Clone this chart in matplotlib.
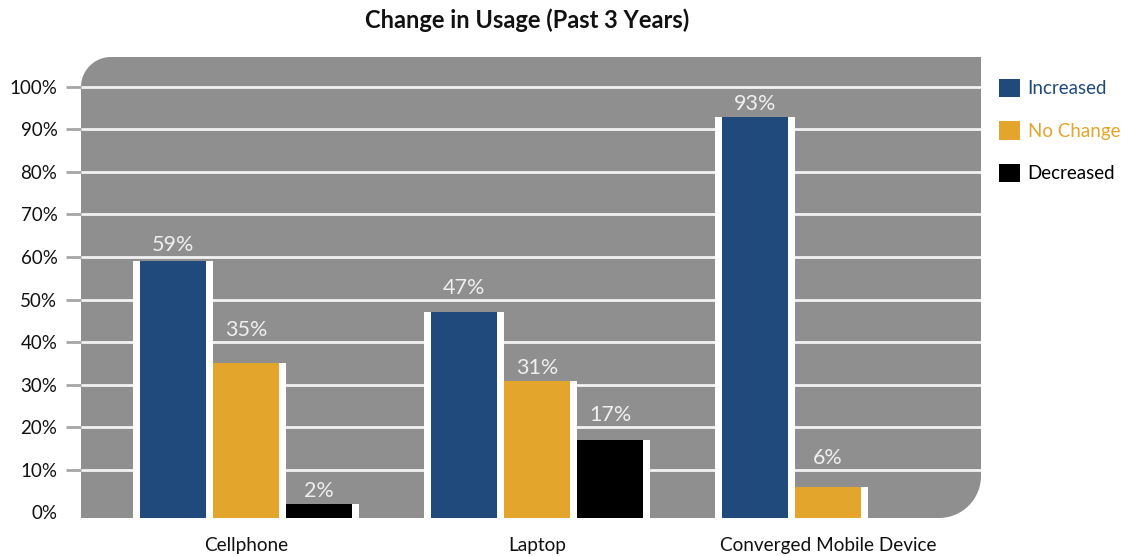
import numpy as np
import matplotlib
matplotlib.use('Agg')
import matplotlib.pyplot as plt
from matplotlib.path import Path
from matplotlib.patches import PathPatch

plt.rcParams['font.family'] = ['Lato', 'DejaVu Sans']

# Survey results, percent of respondents
categories = ['Cellphone', 'Laptop', 'Converged Mobile Device']
series_names = ['Increased', 'No Change', 'Decreased']
increased = [59, 47, 93]
no_change = [35, 31, 6]
decreased = [2, 17, 0]
y_ticks = [0, 10, 20, 30, 40, 50, 60, 70, 80, 90, 100]

colors = ['#214a7c', '#e3a52c', '#000000']
plot_gray = '#8f8f8f'
series = [increased, no_change, decreased]

W, H = 1121, 556
fig = plt.figure(figsize=(W / 100, H / 100), dpi=100)
ax_l, ax_r, ax_t, ax_b = 81, 981, 57, 518
ax = fig.add_axes([ax_l / W, 1 - ax_b / H, (ax_r - ax_l) / W, (ax_b - ax_t) / H])
ax.patch.set_visible(False)

y_min, y_max = -1.3, 107
px_per_unit = (ax_b - ax_t) / (y_max - y_min)


def rounded_panel(r_tl, r_br, w_px, h_px):
    """Panel in axes coords with rounded top-left and bottom-right corners."""
    rx1, ry1 = r_tl / w_px, r_tl / h_px
    rx2, ry2 = r_br / w_px, r_br / h_px
    t = np.linspace(0, np.pi / 2, 20)
    pts = [(0, 0)]
    # top-left arc
    pts += list(zip(rx1 - rx1 * np.cos(t), 1 - ry1 + ry1 * np.sin(t)))
    pts += [(1, 1)]
    # bottom-right arc
    pts += list(zip(1 - rx2 + rx2 * np.cos(t), ry2 - ry2 * np.sin(t)))
    pts += [(0, 0)]
    codes = [Path.MOVETO] + [Path.LINETO] * (len(pts) - 2) + [Path.CLOSEPOLY]
    return Path(pts, codes)


def bar_heights(vals):
    # bars start at the bottom edge of the panel; zero values get no bar
    v = np.array(vals, dtype=float)
    return np.where(v > 0, v - y_min, 0.0)


panel = PathPatch(rounded_panel(30, 42, ax_r - ax_l, ax_b - ax_t),
                  transform=ax.transAxes, facecolor=plot_gray,
                  edgecolor='none', zorder=0)
ax.add_patch(panel)

x = np.arange(len(categories))
group_px = 291.0
pitch = 73 / group_px
bar_w = 66 / group_px
ext = 7 / group_px

# white backing strips first, then the coloured bars on top
for i, vals in enumerate(series):
    off = (i - 1) * pitch
    ax.bar(x + off, bar_heights(vals), bottom=y_min, width=bar_w + 2 * ext,
           color='white', linewidth=0, zorder=2)

handles = []
for i, (vals, c, name) in enumerate(zip(series, colors, series_names)):
    off = (i - 1) * pitch
    b = ax.bar(x + off, bar_heights(vals), bottom=y_min, width=bar_w, color=c,
               linewidth=0, zorder=3, label=name)
    handles.append(b)
    for xi, v in zip(x + off, vals):
        if v == 0:
            continue
        # keep the label clear of the gridline just above the bar
        grid_above = np.ceil((v + 0.01) / 10) * 10
        if (grid_above - v) * px_per_unit >= 25:
            base, gap_px = v, 7
        else:
            base, gap_px = grid_above, 6
        ax.annotate(f'{v}%', (xi, base), xytext=(0, gap_px * 0.72),
                    textcoords='offset points', ha='center', va='baseline',
                    color='#efefef', fontsize=15.5, zorder=4)

ax.set_xlim(-165.5 / group_px, 2 + 153 / group_px)
ax.set_ylim(y_min, y_max)

ax.set_yticks(y_ticks)
ax.set_yticklabels([f'{t}%' for t in y_ticks])
ax.yaxis.grid(True, color='#f2f2f2', linewidth=2)
ax.set_axisbelow(True)
for line in ax.get_ygridlines():
    line.set_zorder(1)
ax.tick_params(axis='y', length=11, width=2, color='#a6a6a6', pad=6,
               labelsize=13.5, labelcolor='#111111')
ax.yaxis.get_major_ticks()[0].tick1line.set_visible(False)
ax.get_ygridlines()[0].set_visible(False)

ax.set_xticks(x)
ax.set_xticklabels(categories)
ax.tick_params(axis='x', length=0, pad=14, labelsize=13.7, labelcolor='#111111')

for s in ax.spines.values():
    s.set_visible(False)

fig.text(527 / W, 1 - 20 / H, 'Change in Usage (Past 3 Years)', ha='center',
         va='center', fontsize=17, fontweight='bold', color='#111111')

leg = fig.legend(handles=handles, loc='upper left',
                 bbox_to_anchor=(999 / W, 1 - 79 / H), frameon=False,
                 fontsize=13.5, handlelength=1.12, handleheight=1.12,
                 handletextpad=0.4, labelspacing=1.27, borderpad=0,
                 borderaxespad=0)
for txt, c in zip(leg.get_texts(), colors):
    txt.set_color(c)

fig.savefig('out.png', dpi=100)
